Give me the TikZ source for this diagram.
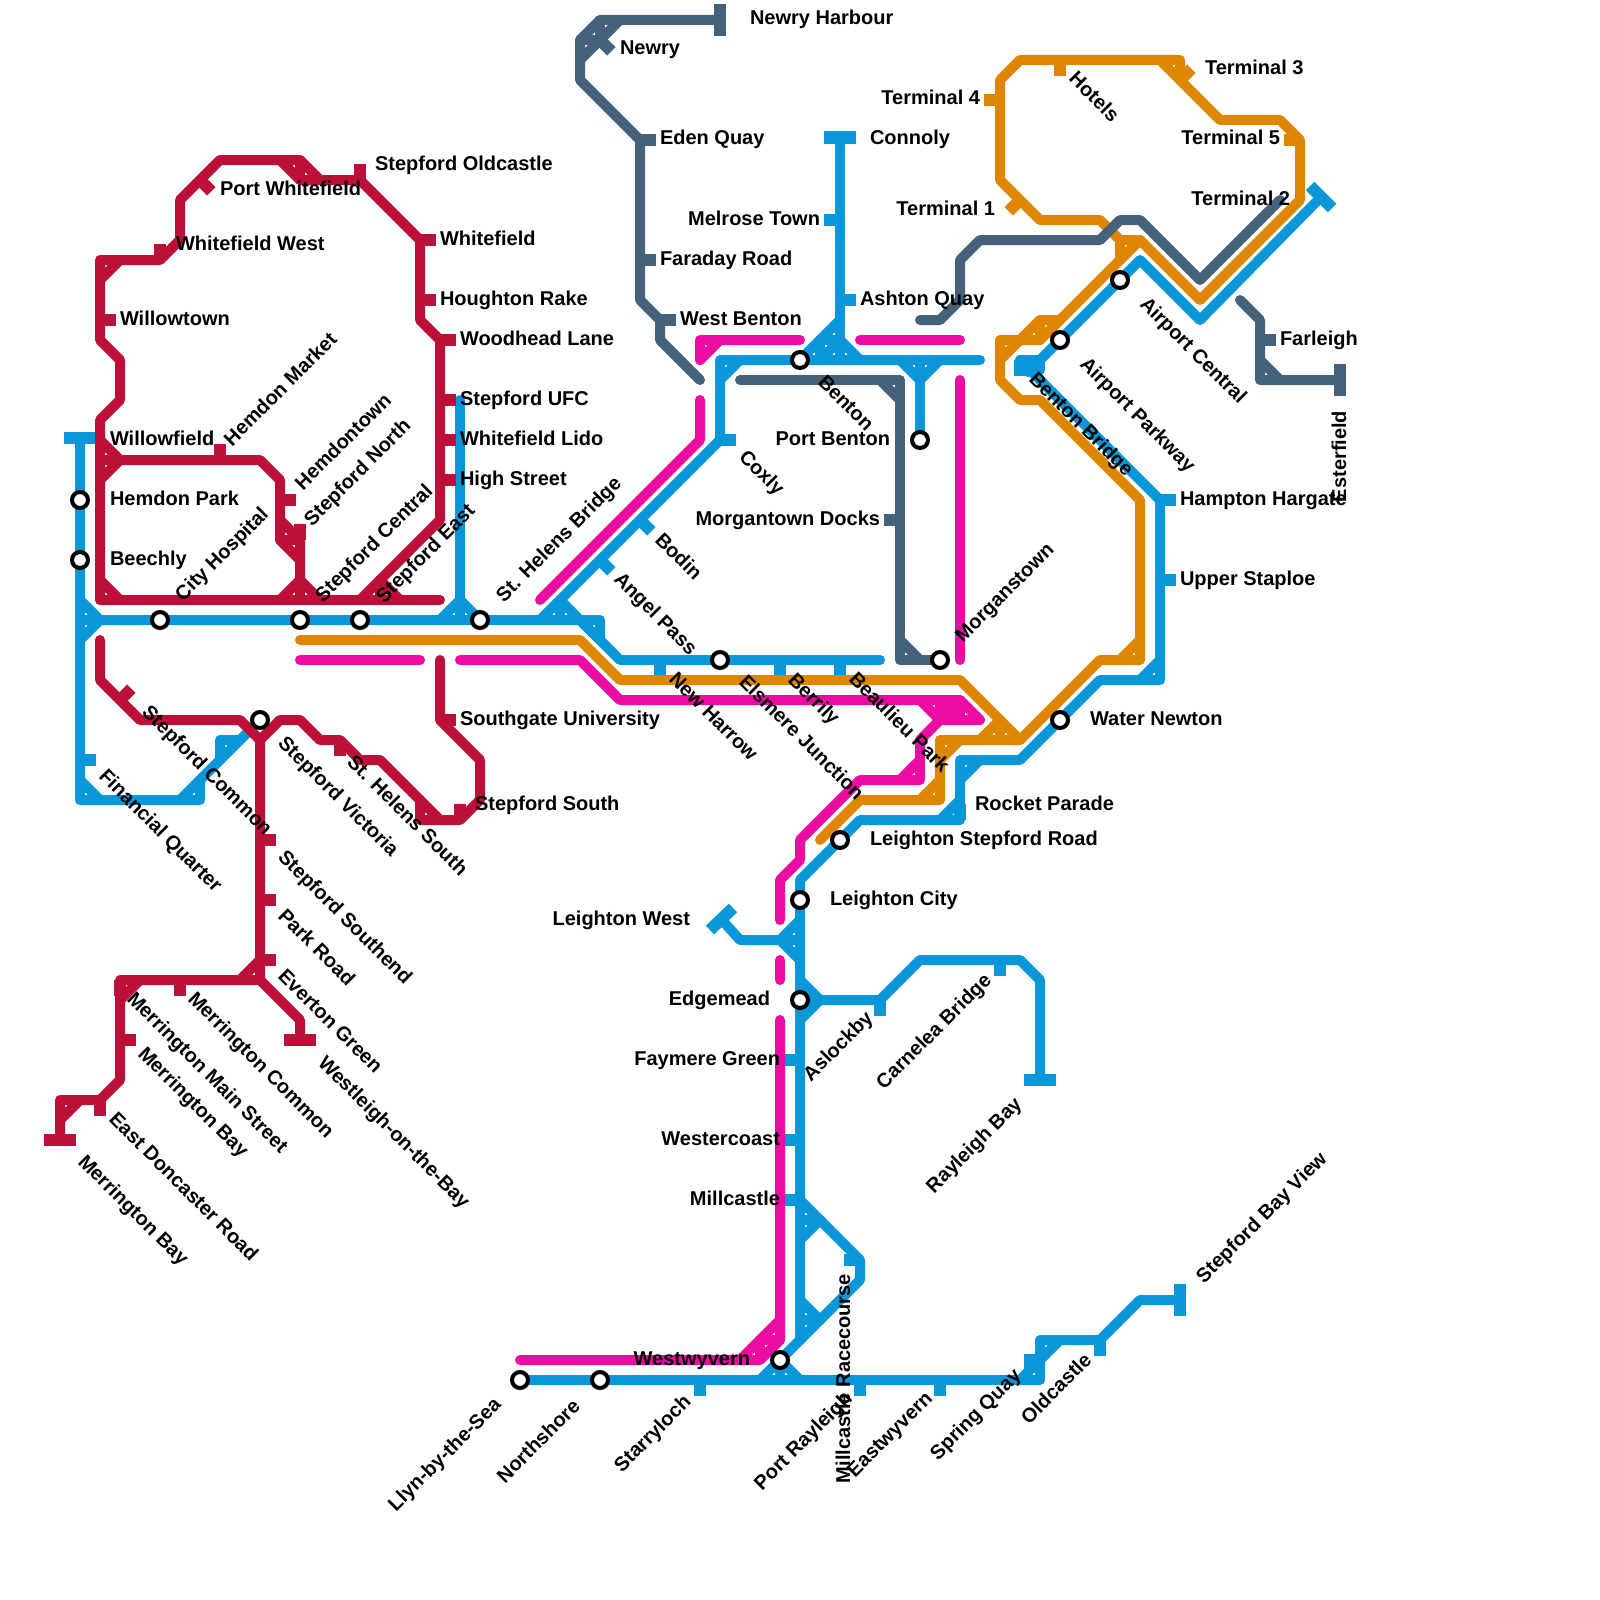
\documentclass[tikz,border=0pt]{standalone}
\usepackage{fontspec}
\setmainfont{Liberation Sans}
\definecolor{cRed}{HTML}{BD1038}
\definecolor{cBlue}{HTML}{0A97D9}
\definecolor{cOrange}{HTML}{DF8600}
\definecolor{cPink}{HTML}{EC0CA3}
\definecolor{cSlate}{HTML}{46627A}
\tikzset{
  ln/.style={line width=10pt,line cap=round,line join=round},
  tk/.style={line width=12pt,line cap=butt},
  stn/.style={circle,draw=black,fill=white,line width=4pt,minimum size=16pt,inner sep=0pt},
  txt/.style={inner sep=0pt,outer sep=0pt,text=black,font=\fontsize{20}{22}\selectfont\bfseries}
}
\newcommand{\tl}[5]{\node[txt,rotate=#3,anchor=#4] (#1) at (#2) {#5};}
\begin{document}
\begin{tikzpicture}[x=1pt,y=-1pt]
\useasboundingbox (0,0) rectangle (1600,1600);
\fill[white] (0,0) rectangle (1600,1600);
% ---------- BLUE ----------
\begin{scope}[draw=cBlue]
\draw[tk] (64,438) -- (96,438);
\draw[ln] (80,438) -- (80,800) -- (200,800) -- (200,780) -- (180,800);
\draw[ln] (80,600) -- (100,620) -- (80,640);
\draw[ln] (80,620) -- (600,620) -- (600,640) -- (580,620);
\draw[ln] (80,780) -- (100,800);
\draw[tk] (80,760) -- (96,760);
\draw[ln] (200,780) -- (240,740) -- (220,740) -- (220,760) -- (240,740) -- (260,720);
\draw[ln] (460,400) -- (460,620);
\draw[ln] (440,620) -- (460,600) -- (480,620);
\draw[ln] (540,620) -- (720,440) -- (720,360) -- (980,360);
\draw[ln] (740,360) -- (720,380);
\draw[ln] (560,600) -- (560,620);
\draw[ln] (560,600) -- (620,660) -- (880,660);
\draw[tk] (640,520) -- (651.3,531.3);
\draw[tk] (600,560) -- (611.3,571.3);
\draw[tk] (720,440) -- (736,440);
\draw[tk] (660,660) -- (660,676);
\draw[tk] (780,660) -- (780,676);
\draw[tk] (840,660) -- (840,676);
% Connoly branch
\draw[tk] (824,137.5) -- (856,137.5);
\draw[ln] (840,138) -- (840,360);
\draw[tk] (840,220) -- (824,220);
\draw[tk] (840,300) -- (856,300);
\draw[ln] (800,360) -- (840,320);
\draw[ln] (820,360) -- (840,340) -- (860,360);
\draw[ln] (820,360) -- (820,340) -- (840,340);
\draw[ln] (900,360) -- (920,380) -- (940,360);
\draw[ln] (920,360) -- (920,440);
% Airport line
\draw[tk] (1310,186) -- (1332,208);
\draw[ln] (1320,198) -- (1200,320) -- (1140,260) -- (1040,360) -- (1020,360) -- (1160,500) -- (1160,680) -- (1100,680) -- (1020,760) -- (960,760) -- (960,820) -- (860,820) -- (800,880) -- (800,1340);
\draw[ln] (1040,360) -- (1028,372);
\draw[tk] (1020,360) -- (1020,376);
\draw[ln] (1040,360) -- (1040,370);
\draw[tk] (1160,500) -- (1176,500);
\draw[tk] (1160,580) -- (1176,580);
\draw[ln] (1140,680) -- (1160,660);
\draw[ln] (980,760) -- (960,780);
\draw[ln] (960,800) -- (940,820);
\draw[tk] (960,820) -- (960,804);
% Leighton West
\draw[tk] (710,930) -- (733,908);
\draw[ln] (721,919) -- (740,940) -- (800,940);
\draw[ln] (800,920) -- (780,940) -- (800,960);
% Rayleigh branch
\draw[ln] (800,980) -- (820,1000) -- (800,1020);
\draw[ln] (800,1000) -- (880,1000) -- (920,960) -- (1020,960) -- (1040,980) -- (1040,1080);
\draw[tk] (1024,1080) -- (1056,1080);
\draw[tk] (880,1000) -- (880,1016);
\draw[tk] (1000,960) -- (1000,976);
\draw[tk] (800,1060) -- (784,1060);
\draw[tk] (800,1140) -- (784,1140);
\draw[tk] (800,1200) -- (784,1200);
% Racecourse loop
\draw[ln] (800,1200) -- (860,1260) -- (860,1280) -- (780,1360);
\draw[ln] (800,1220) -- (820,1220) -- (800,1240);
\draw[ln] (800,1300) -- (820,1320) -- (800,1320);
\draw[tk] (860,1260) -- (844,1260);
% Bottom line
\draw[ln] (520,1380) -- (1040,1380) -- (1040,1340) -- (1100,1340) -- (1140,1300) -- (1180,1300);
\draw[tk] (1180,1284) -- (1180,1316);
\draw[ln] (760,1380) -- (780,1360) -- (800,1380);
\draw[ln] (780,1360) -- (780,1380);
\draw[ln] (1020,1380) -- (1060,1340);
\draw[tk] (1030,1370) -- (1030,1354);
\draw[tk] (1100,1340) -- (1100,1356);
\draw[tk] (700,1380) -- (700,1396);
\draw[tk] (860,1380) -- (860,1396);
\draw[tk] (940,1380) -- (940,1396);
\end{scope}
% ---------- PINK ----------
\begin{scope}[draw=cPink]
\draw[ln] (300,660) -- (420,660);
\draw[ln] (460,660) -- (580,660) -- (620,700) -- (960,700) -- (980,720) -- (940,720) -- (920,740) -- (920,780) -- (860,780) -- (800,840) -- (800,860) -- (780,880) -- (780,920);
\draw[ln] (920,700) -- (940,720) -- (940,700);
\draw[ln] (960,700) -- (960,720);
\draw[ln] (950,700) -- (950,720);
\draw[ln] (900,780) -- (920,760);
\draw[ln] (780,960) -- (780,980);
\draw[ln] (780,1020) -- (780,1340) -- (760,1360) -- (520,1360);
\draw[ln] (780,1320) -- (740,1360);
\draw[ln] (780,1340) -- (760,1340) -- (760,1360);
\draw[ln] (700,400) -- (700,440) -- (540,600);
\draw[ln] (800,340) -- (700,340) -- (700,360) -- (720,340);
\draw[ln] (860,340) -- (960,340);
\draw[ln] (960,380) -- (960,660);
\end{scope}
% ---------- ORANGE ----------
\begin{scope}[draw=cOrange]
\draw[ln] (1180,80) -- (1180,60) -- (1020,60) -- (1000,80) -- (1000,180) -- (1040,220) -- (1100,220) -- (1120,240) -- (1120,260) -- (1140,240) -- (1200,300) -- (1300,200) -- (1300,140) -- (1280,120) -- (1220,120) -- (1160,60);
\draw[ln] (1120,240) -- (1140,240) -- (1060,320) -- (1040,320) -- (1020,340) -- (1000,360);
\draw[ln] (1060,320) -- (1040,340) -- (1040,320);
\draw[ln] (1040,340) -- (1000,340) -- (1000,380) -- (1020,400) -- (1040,400) -- (1140,500) -- (1140,660) -- (1100,660) -- (1020,740) -- (960,740) -- (940,760) -- (940,800) -- (860,800) -- (820,840);
\draw[ln] (1120,660) -- (1140,640);
\draw[ln] (960,740) -- (940,740) -- (940,760);
\draw[ln] (920,800) -- (940,780);
\draw[ln] (300,640) -- (580,640) -- (620,680) -- (960,680) -- (1020,740);
\draw[ln] (1000,720) -- (980,740);
\draw[ln] (1000,720) -- (1000,740);
\draw[tk] (1180,80) -- (1191.3,68.7);
\draw[tk] (1000,100) -- (984,100);
\draw[tk] (1060,60) -- (1060,76);
\draw[tk] (1020,200) -- (1008.7,211.3);
\draw[tk] (1300,140) -- (1284,140);
\end{scope}
% ---------- RED ----------
\begin{scope}[draw=cRed]
\draw[ln] (420,240) -- (360,180) -- (320,180) -- (300,160) -- (220,160) -- (180,200) -- (180,240) -- (160,260) -- (100,260) -- (100,340) -- (120,360) -- (120,400) -- (100,420) -- (100,600) -- (440,600);
\draw[ln] (320,180) -- (300,180) -- (280,160);
\draw[ln] (300,160) -- (300,180);
\draw[ln] (120,260) -- (100,280);
\draw[ln] (100,440) -- (120,460) -- (100,480);
\draw[ln] (100,460) -- (260,460) -- (280,480) -- (280,540) -- (300,560);
\draw[ln] (280,520) -- (300,540) -- (300,580);
\draw[ln] (280,540) -- (300,540);
\draw[ln] (280,600) -- (300,580) -- (320,600);
\draw[ln] (300,580) -- (300,600);
\draw[ln] (100,580) -- (120,600);
\draw[ln] (420,240) -- (420,320) -- (440,340) -- (440,520) -- (360,600);
\draw[ln] (380,580) -- (400,600);
\draw[ln] (380,580) -- (380,600);
\draw[tk] (360,180) -- (360,164);
\draw[tk] (200,180) -- (211.3,191.3);
\draw[tk] (160,260) -- (160,244);
\draw[tk] (100,320) -- (116,320);
\draw[tk] (220,460) -- (220,444);
\draw[tk] (280,500) -- (296,500);
\draw[tk] (300,540) -- (300,524);
\draw[tk] (420,240) -- (436,240);
\draw[tk] (420,300) -- (436,300);
\draw[tk] (440,340) -- (456,340);
\draw[tk] (440,400) -- (456,400);
\draw[tk] (440,440) -- (456,440);
\draw[tk] (440,480) -- (456,480);
% South
\draw[ln] (100,640) -- (100,680) -- (140,720) -- (240,720) -- (260,740) -- (280,720) -- (300,720) -- (320,740) -- (340,740) -- (360,760) -- (380,760) -- (420,800) -- (420,820) -- (460,820) -- (480,800) -- (480,760) -- (440,720) -- (440,660);
\draw[ln] (420,800) -- (440,820);
\draw[ln] (260,740) -- (260,980) -- (120,980) -- (120,1080) -- (100,1100) -- (60,1100) -- (60,1140);
\draw[ln] (260,960) -- (240,980);
\draw[ln] (140,980) -- (120,1000);
\draw[ln] (80,1100) -- (60,1120);
\draw[ln] (260,980) -- (300,1020) -- (300,1040);
\draw[tk] (284,1040) -- (316,1040);
\draw[tk] (44,1140) -- (76,1140);
\draw[tk] (120,700) -- (131.3,688.7);
\draw[tk] (340,740) -- (340,756);
\draw[tk] (460,820) -- (460,804);
\draw[tk] (440,720) -- (456,720);
\draw[tk] (260,840) -- (276,840);
\draw[tk] (260,900) -- (276,900);
\draw[tk] (260,960) -- (276,960);
\draw[tk] (180,980) -- (180,996);
\draw[tk] (120,980) -- (120,996);
\draw[tk] (120,1040) -- (136,1040);
\draw[tk] (100,1100) -- (100,1116);
\end{scope}
% ---------- SLATE ----------
\begin{scope}[draw=cSlate]
\draw[ln] (720,20) -- (600,20) -- (580,40) -- (580,80) -- (640,140) -- (640,300) -- (660,320) -- (660,340) -- (700,380);
\draw[ln] (620,20) -- (580,60);
\draw[ln] (600,20) -- (600,40) -- (580,40);
\draw[tk] (720,4) -- (720,36);
\draw[tk] (600,40) -- (611.3,51.3);
\draw[tk] (640,140) -- (656,140);
\draw[tk] (640,260) -- (656,260);
\draw[tk] (660,320) -- (676,320);
\draw[ln] (740,380) -- (900,380) -- (900,660) -- (940,660);
\draw[ln] (880,380) -- (900,400);
\draw[ln] (900,640) -- (920,660);
\draw[tk] (900,520) -- (884,520);
\draw[ln] (920,320) -- (940,320) -- (960,300) -- (960,260) -- (980,240) -- (1100,240) -- (1120,220) -- (1140,220) -- (1200,280) -- (1280,200);
\draw[ln] (1240,300) -- (1260,320) -- (1260,380) -- (1340,380);
\draw[ln] (1260,360) -- (1280,380);
\draw[tk] (1260,340) -- (1276,340);
\draw[tk] (1340,364) -- (1340,396);
\end{scope}
% ---------- INTERCHANGE STATIONS ----------
\node[stn] (sHemdonPark) at (80,500) {};
\node[stn] (sBeechly) at (80,560) {};
\node[stn] (sCityHosp) at (160,620) {};
\node[stn] (sStCentral) at (300,620) {};
\node[stn] (sStEast) at (360,620) {};
\node[stn] (sHelensBr) at (480,620) {};
\node[stn] (sVictoria) at (260,720) {};
\node[stn] (sBenton) at (800,360) {};
\node[stn] (sPortBenton) at (920,440) {};
\node[stn] (sElsmere) at (720,660) {};
\node[stn] (sMorganstown) at (940,660) {};
\node[stn] (sAirCentral) at (1120,280) {};
\node[stn] (sAirParkway) at (1060,340) {};
\node[stn] (sWaterNewton) at (1060,720) {};
\node[stn] (sLeightonSR) at (840,840) {};
\node[stn] (sLeightonCity) at (800,900) {};
\node[stn] (sEdgemead) at (800,1000) {};
\node[stn] (sWestwyvern) at (780,1360) {};
\node[stn] (sLlyn) at (520,1380) {};
\node[stn] (sNorthshore) at (600,1380) {};
% ---------- LABELS ----------
\tl{a1}{375,170}{0}{base west}{Stepford Oldcastle}
\tl{a2}{220,195}{0}{base west}{Port Whitefield}
\tl{a3}{176,250}{0}{base west}{Whitefield West}
\tl{a4}{120,325}{0}{base west}{Willowtown}
\tl{a5}{110,445}{0}{base west}{Willowfield}
\tl{a6}{110,505}{0}{base west}{Hemdon Park}
\tl{a7}{110,565}{0}{base west}{Beechly}
\tl{a8}{440,245}{0}{base west}{Whitefield}
\tl{a9}{440,305}{0}{base west}{Houghton Rake}
\tl{a10}{460,345}{0}{base west}{Woodhead Lane}
\tl{a11}{460,405}{0}{base west}{Stepford UFC}
\tl{a12}{460,445}{0}{base west}{Whitefield Lido}
\tl{a13}{460,485}{0}{base west}{High Street}
\tl{a14}{460,725}{0}{base west}{Southgate University}
\tl{a15}{475,810}{0}{base west}{Stepford South}
\tl{a16}{750,25}{0}{base west}{Newry Harbour}
\tl{a17}{620,55}{0}{base west}{Newry}
\tl{a18}{660,145}{0}{base west}{Eden Quay}
\tl{a19}{660,265}{0}{base west}{Faraday Road}
\tl{a20}{680,325}{0}{base west}{West Benton}
\tl{a21}{870,145}{0}{base west}{Connoly}
\tl{a22}{860,305}{0}{base west}{Ashton Quay}
\tl{a23}{1280,345}{0}{base west}{Farleigh}
\tl{a24}{1180,505}{0}{base west}{Hampton Hargate}
\tl{a25}{1180,585}{0}{base west}{Upper Staploe}
\tl{a26}{1090,725}{0}{base west}{Water Newton}
\tl{a27}{975,810}{0}{base west}{Rocket Parade}
\tl{a28}{870,845}{0}{base west}{Leighton Stepford Road}
\tl{a29}{830,905}{0}{base west}{Leighton City}
\tl{a30}{1205,75}{0}{base west}{Terminal 3}
\tl{b1}{980,105}{0}{base east}{Terminal 4}
\tl{b2}{1280,145}{0}{base east}{Terminal 5}
\tl{b3}{995,215}{0}{base east}{Terminal 1}
\tl{b4}{1290,205}{0}{base east}{Terminal 2}
\tl{b5}{820,225}{0}{base east}{Melrose Town}
\tl{b6}{890,445}{0}{base east}{Port Benton}
\tl{b7}{880,525}{0}{base east}{Morgantown Docks}
\tl{b8}{690,925}{0}{base east}{Leighton West}
\tl{b9}{770,1005}{0}{base east}{Edgemead}
\tl{b10}{780,1065}{0}{base east}{Faymere Green}
\tl{b11}{780,1145}{0}{base east}{Westercoast}
\tl{b12}{780,1205}{0}{base east}{Millcastle}
\tl{b13}{750,1365}{0}{base east}{Westwyvern}
\tl{c1}{232,447}{45}{base west}{Hemdon Market}
\tl{c2}{303,491}{45}{base west}{Hemdontown}
\tl{c3}{312,527}{45}{base west}{Stepford North}
\tl{c4}{183,602}{45}{base west}{City Hospital}
\tl{c5}{323,603}{45}{base west}{Stepford Central}
\tl{c6}{384,604}{45}{base west}{Stepford East}
\tl{c7}{504,603}{45}{base west}{St. Helens Bridge}
\tl{c8}{963,643}{45}{base west}{Morganstown}
\tl{c9}{811,1082}{45}{base west}{Aslockby}
\tl{c10}{884,1090}{45}{base west}{Carnelea Bridge}
\tl{c11}{934,1194}{45}{base west}{Rayleigh Bay}
\tl{c12}{1204,1284}{45}{base west}{Stepford Bay View}
\tl{c13}{396,1512}{45}{base west}{Llyn-by-the-Sea}
\tl{c14}{505,1484}{45}{base west}{Northshore}
\tl{c15}{622,1473}{45}{base west}{Starryloch}
\tl{c16}{762,1491}{45}{base west}{Port Rayleigh}
\tl{c17}{855,1478}{45}{base west}{Eastwyvern}
\tl{c18}{938,1461}{45}{base west}{Spring Quay}
\tl{c19}{1029,1425}{45}{base west}{Oldcastle}
\tl{d1}{850,1483}{90}{base west}{Millcastle Racecourse}
\tl{d2}{1346,502}{90}{base west}{Esterfield}
\tl{e1}{141,713}{-45}{base west}{Stepford Common}
\tl{e2}{98,777}{-45}{base west}{Financial Quarter}
\tl{e3}{277,744}{-45}{base west}{Stepford Victoria}
\tl{e4}{346,763}{-45}{base west}{St. Helens South}
\tl{e5}{277,858}{-45}{base west}{Stepford Southend}
\tl{e6}{277,917}{-45}{base west}{Park Road}
\tl{e7}{277,977}{-45}{base west}{Everton Green}
\tl{e8}{317,1064}{-45}{base west}{Westleigh-on-the-Bay}
\tl{e9}{187,1000}{-45}{base west}{Merrington Common}
\tl{e10}{126,1000}{-45}{base west}{Merrington Main Street}
\tl{e11}{137,1055}{-45}{base west}{Merrington Bay}
\tl{e12}{108,1120}{-45}{base west}{East Doncaster Road}
\tl{e13}{77,1163}{-45}{base west}{Merrington Bay}
\tl{e14}{817,383}{-45}{base west}{Benton}
\tl{e15}{738,458}{-45}{base west}{Coxly}
\tl{e16}{1068,80}{-45}{base west}{Hotels}
\tl{e17}{1139,305}{-45}{base west}{Airport Central}
\tl{e18}{1079,365}{-45}{base west}{Airport Parkway}
\tl{e19}{1028,380}{-45}{base west}{Benton Bridge}
\tl{e20}{654,541}{-45}{base west}{Bodin}
\tl{e21}{613,580}{-45}{base west}{Angel Pass}
\tl{e22}{668,680}{-45}{base west}{New Harrow}
\tl{e23}{738,683}{-45}{base west}{Elsmere Junction}
\tl{e24}{787,681}{-45}{base west}{Berrily}
\tl{e25}{848,680}{-45}{base west}{Beaulieu Park}
\end{tikzpicture}
\end{document}
